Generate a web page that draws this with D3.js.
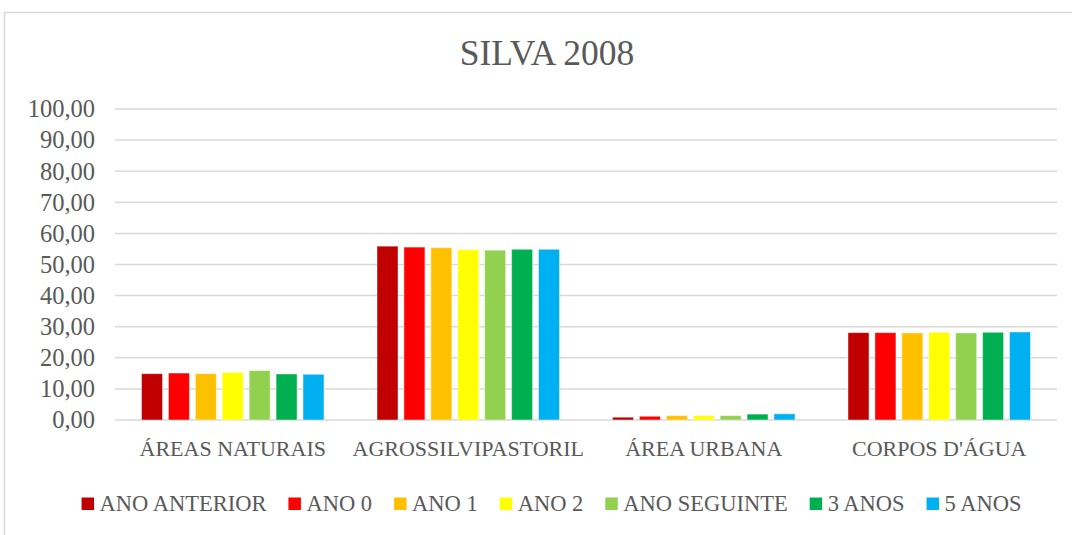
<!DOCTYPE html>
<html><head><meta charset="utf-8">
<script src="https://cdn.jsdelivr.net/npm/d3@7"></script>
<style>body{margin:0;background:#fff}svg{display:block}text{font-family:"Liberation Serif",serif;fill:#595959}</style>
</head><body>
<svg id="c" width="1072" height="535"></svg>
<script>
(function () {
const title = "SILVA 2008";
const categories = ["ÁREAS NATURAIS", "AGROSSILVIPASTORIL", "ÁREA URBANA", "CORPOS D'ÁGUA"];
const seriesNames = ["ANO ANTERIOR", "ANO 0", "ANO 1", "ANO 2", "ANO SEGUINTE", "3 ANOS", "5 ANOS"];
const seriesColors = ["#C00000", "#FF0000", "#FFC000", "#FFFF00", "#92D050", "#00B050", "#00B0F0"];
const anoAnterior = [14.9, 55.9, 0.9, 28.1];
const ano0 = [15.1, 55.6, 1.2, 28.1];
const ano1 = [14.9, 55.4, 1.4, 28.0];
const ano2 = [15.3, 54.8, 1.4, 28.2];
const anoSeguinte = [15.9, 54.6, 1.4, 28.0];
const anos3 = [14.8, 54.9, 1.9, 28.2];
const anos5 = [14.7, 54.9, 2.0, 28.3];
const yTicks = [0, 10, 20, 30, 40, 50, 60, 70, 80, 90, 100];

const seriesValues = [anoAnterior, ano0, ano1, ano2, anoSeguinte, anos3, anos5];
const fmt = v => v.toFixed(2).replace(".", ",");

const svg = d3.select("#c");
svg.append("rect").attr("x", 4.5).attr("y", 12.5).attr("width", 1100).attr("height", 600)
  .attr("fill", "#fff").attr("stroke", "#d9d9d9").attr("stroke-width", 1.5);

const pLeft = 115, pRight = 1057, pTop = 109, pBottom = 420;
const y = d3.scaleLinear().domain([0, 100]).range([pBottom, pTop]);
const x0 = d3.scaleBand().domain(categories).range([pLeft, pRight]).paddingInner(0.2).paddingOuter(0.1);
const x1 = d3.scaleBand().domain(seriesNames).range([0, x0.bandwidth()]).paddingInner(0.22).paddingOuter(0.11);

svg.append("text").attr("x", 547).attr("y", 65).attr("text-anchor", "middle")
  .style("font-size", "35.5px").text(title);

svg.append("g").selectAll("line").data(yTicks).join("line")
  .attr("x1", pLeft).attr("x2", pRight)
  .attr("y1", d => y(d)).attr("y2", d => y(d))
  .attr("stroke", "#d9d9d9").attr("stroke-width", 1.5);

const yAxis = svg.append("g").attr("transform", `translate(${pLeft},0)`)
  .call(d3.axisLeft(y).tickValues(yTicks).tickFormat(fmt).tickSize(0).tickPadding(20));
yAxis.select(".domain").remove();
yAxis.selectAll("text").style("font-size", "24.5px").attr("fill", "#595959")
  .style("font-family", "Liberation Serif, serif");

const groups = svg.append("g").selectAll("g").data(categories).join("g")
  .attr("transform", d => `translate(${x0(d)},0)`);
groups.selectAll("rect").data((c, ci) => seriesNames.map((s, si) => ({s, si, v: seriesValues[si][ci]})))
  .join("rect")
  .attr("x", d => x1(d.s)).attr("width", x1.bandwidth())
  .attr("y", d => y(d.v)).attr("height", d => y(0) - y(d.v))
  .attr("fill", d => seriesColors[d.si])
  .attr("stroke", "#fff").attr("stroke-opacity", 0.45).attr("stroke-width", 1);

const xAxis = svg.append("g").attr("transform", `translate(0,${pBottom})`)
  .call(d3.axisBottom(x0).tickSize(0).tickPadding(20));
xAxis.select(".domain").remove();
xAxis.selectAll("text").style("font-size", "22px").attr("fill", "#595959")
  .style("font-family", "Liberation Serif, serif");

const leg = svg.append("g");
const items = leg.selectAll("g").data(seriesNames).join("g");
items.append("rect").attr("width", 12.5).attr("height", 12.5).attr("y", 497.5)
  .attr("fill", (d, i) => seriesColors[i]);
items.append("text").attr("x", 18).attr("y", 511).style("font-size", "22.5px").text(d => d);
let cx = 0;
const pos = [];
items.each(function () {
  const w = d3.select(this).select("text").node().getComputedTextLength();
  pos.push(cx);
  cx += 18 + w + 22;
});
const total = cx - 22;
const start = 551.5 - total / 2;
items.attr("transform", (d, i) => `translate(${start + pos[i]},0)`);
})();
</script>
</body></html>
